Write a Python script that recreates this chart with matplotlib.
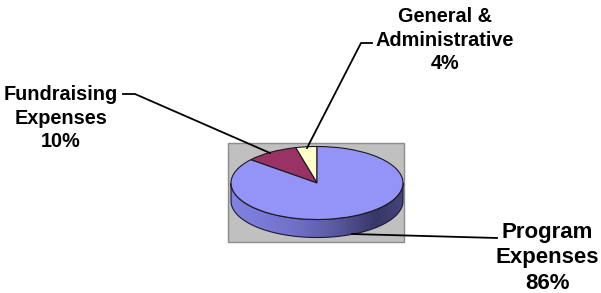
import numpy as np
import matplotlib
matplotlib.use('Agg')
import matplotlib.pyplot as plt
from matplotlib.patches import Wedge, Polygon, Rectangle
from matplotlib.transforms import Affine2D
from matplotlib.colors import LinearSegmentedColormap

# datos del gráfico
categorias = ['General &\nAdministrative', 'Fundraising\nExpenses', 'Program\nExpenses']
valores = [4, 10, 86]
colores = ['#FFFFCC', '#993366', '#9494F8']

W, H = 601, 293
fig = plt.figure(figsize=(W / 100, H / 100), dpi=100)
ax = fig.add_axes([0, 0, 1, 1])
ax.set_xlim(0, W)
ax.set_ylim(H, 0)
ax.axis('off')

# area del pastel (pixeles)
cx, cy = 317, 183
a, b = 86, 36.5
prof = 18

ax.add_patch(Rectangle((228, 143), 176, 99, facecolor='#C0C0C0',
                       edgecolor='#8C8C8C', linewidth=1, zorder=1))

# pared lateral con degradado
t = np.radians(np.linspace(180, 360, 200))
arriba = np.column_stack([cx + a * np.cos(t), cy - b * np.sin(t)])
abajo = arriba[::-1] + [0, prof]
lado = Polygon(np.vstack([arriba, abajo]), closed=True, facecolor='none',
               edgecolor='#1a1a33', linewidth=0.8, zorder=3)
ax.add_patch(lado)
cmap = LinearSegmentedColormap.from_list('lado', [(0, '#8282E2'), (0.35, '#7272CC'),
                                                  (0.6, '#5A5AA2'), (0.85, '#363668'),
                                                  (1, '#45457A')])
grad = np.linspace(0, 1, 256).reshape(1, -1)
img = ax.imshow(grad, cmap=cmap, aspect='auto',
                extent=(cx - a, cx + a, cy + b + prof + 1, cy - 1), zorder=2)
img.set_clip_path(lado)

# cara superior
tr = Affine2D().scale(a, -b).translate(cx, cy) + ax.transData
total = sum(valores)
ang = 90
for v, c in zip(valores, colores):
    d = 360 * v / total
    ax.add_patch(Wedge((0, 0), 1, ang, ang + d, facecolor=c, edgecolor='#1a1a1a',
                       linewidth=0.8, transform=tr, zorder=4))
    ang += d

# etiquetas
fuente = dict(family='Liberation Sans', fontweight='bold', ha='center', va='center',
              linespacing=1.3)
etiquetas = [f'{c}\n{v}%' for c, v in zip(categorias, valores)]
ax.text(445, 40, etiquetas[0], fontsize=14.3, **fuente)
ax.text(61, 118, etiquetas[1], fontsize=14.3, **fuente)
ax.text(547, 258, etiquetas[2], fontsize=16, **fuente)

# lineas guia
lk = dict(color='black', linewidth=1.3, zorder=5)
ax.plot([372, 361, 307], [43, 43, 148], **lk)
ax.plot([123, 135, 270], [94, 94, 153], **lk)
ax.plot([352, 497], [234, 238], **lk)

fig.savefig('out.png', dpi=100)
